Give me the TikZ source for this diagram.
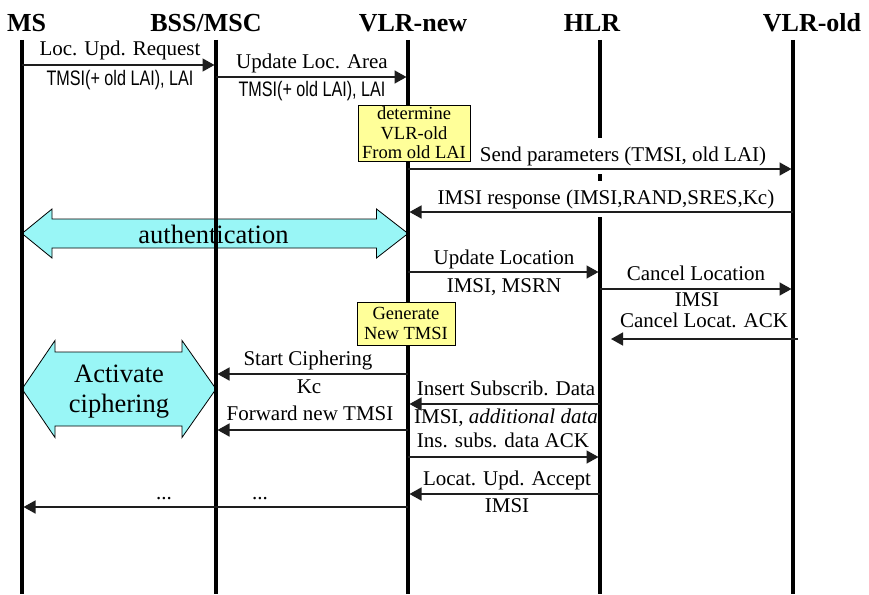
\documentclass[tikz,border=0pt]{standalone}
\usepackage{fontspec}
\setmainfont{Liberation Serif}
\newfontfamily\narrowsans[FakeStretch=0.77]{Liberation Sans}
\usetikzlibrary{arrows.meta}

\definecolor{notefill}{RGB}{255,255,153}
\definecolor{phasefill}{RGB}{153,246,246}
\definecolor{msgline}{RGB}{30,30,30}

\begin{document}
\begin{tikzpicture}[x=1pt,y=-1pt,
  header/.style={font=\fontsize{26}{26}\selectfont\bfseries, anchor=base, inner sep=0pt},
  lifeline/.style={line width=3.4pt},
  msg/.style={draw=msgline, line width=1.5pt, -{Triangle[length=12pt,width=13pt]}, shorten >=1.5pt},
  lbl/.style={font=\fontsize{21}{21}\selectfont, text height=14pt, text depth=4pt, inner sep=1pt},
  sans/.style={lbl, font=\fontsize{21}{21}\narrowsans},
  cover/.style={fill=white, inner ysep=9pt},
  note/.style={draw=black, line width=0.8pt, fill=notefill, align=center, inner sep=0pt,
    font=\fontsize{18.5}{19.5}\selectfont},
  phase/.style={draw=black, line width=0.8pt, fill=phasefill},
  phasetext/.style={inner sep=0pt, align=center, font=\fontsize{26.5}{30}\selectfont},
]
\useasboundingbox (0,0) rectangle (869,594);
\fill[white] (0,0) rectangle (869,594);

% entity headers
\node[header] (hMS)  at (26.5,32) {MS};
\node[header] (hBSS) at (206,32)  {BSS/MSC};
\node[header] (hVN)  at (413,32)  {VLR-new};
\node[header] (hHLR) at (592,32)  {HLR};
\node[header] (hVO)  at (812,32)  {VLR-old};

% lifeline ends
\coordinate (MS)  at (22,40);  \coordinate (MSb)  at (22,594);
\coordinate (BSS) at (216,40); \coordinate (BSSb) at (216,594);
\coordinate (VN)  at (408,40); \coordinate (VNb)  at (408,594);
\coordinate (HLR) at (600,40); \coordinate (HLRb) at (600,594);
\coordinate (VO)  at (793,40); \coordinate (VOb)  at (793,594);

% phase arrows (double-headed block arrows)
\path[phase] (MS |- 0,233.5) -- (52,209) -- (52,219) -- (376.5,219) -- (376.5,209)
  -- (VN |- 0,233.5) -- (376.5,258) -- (376.5,248) -- (52,248) -- (52,258) -- cycle;
\node[phasetext, anchor=base] (auth) at (213.5,243) {authentication};

\path[phase] (MS |- 0,389) -- (55,340.5) -- (55,352) -- (182,352) -- (182,340.5)
  -- (BSS |- 0,389) -- (182,437.5) -- (182,426) -- (55,426) -- (55,437.5) -- cycle;
\node[phasetext] (ciph) at (119,392) {Activate\\ciphering};

% lifelines
\draw[lifeline] (MS) -- (MSb);
\draw[lifeline] (BSS) -- (BSSb);
\draw[lifeline] (VN) -- (VNb);
\draw[lifeline] (HLR) -- (HLRb);
\draw[lifeline] (VO) -- (VOb);

% message labels
\node[lbl]  (m1a) at (120,51)  {Loc. Upd. Request};
\node[sans] (m1b) at (120,80)  {TMSI(+ old LAI), LAI};
\node[lbl]  (m2a) at (312,63)  {Update Loc. Area};
\node[sans] (m2b) at (312,91)  {TMSI(+ old LAI), LAI};
\node[lbl, cover] (m3a) at (623,156) {Send parameters (TMSI, old LAI)};
\node[lbl, cover] (m4a) at (606,199) {IMSI response (IMSI,RAND,SRES,Kc)};
\node[lbl]  (m5a) at (504,259) {Update Location};
\node[lbl]  (m5b) at (504,287) {IMSI, MSRN};
\node[lbl]  (m6a) at (696,275) {Cancel Location};
\node[lbl]  (m6b) at (697,301) {IMSI};
\node[lbl]  (m7a) at (704,322) {Cancel Locat. ACK};
\node[lbl]  (m8a) at (308,360) {Start Ciphering};
\node[lbl]  (m8b) at (309,388) {Kc};
\node[lbl]  (m9a) at (310,415) {Forward new TMSI};
\node[lbl]  (m10a) at (506,390) {Insert Subscrib. Data};
\node[lbl]  (m10b) at (506,418) {IMSI, \textit{additional data}};
\node[lbl]  (m11a) at (503,442) {Ins. subs. data ACK};
\node[lbl]  (m12a) at (507,480) {Locat. Upd. Accept};
\node[lbl]  (m12b) at (507,507) {IMSI};
\node[lbl]  (m13a) at (164,494) {...};
\node[lbl]  (m13b) at (260,494) {...};

% messages
\coordinate (ackfrom) at (798,339);
\coordinate (ackto)   at (609.5,339);
\draw[msg] (MS |- 0,65)   -- (BSS |- 0,65);
\draw[msg] (BSS |- 0,77)  -- (VN |- 0,77);
\draw[msg] (VN |- 0,169)  -- (VO |- 0,169);
\draw[msg] (VO |- 0,212)  -- (VN |- 0,212);
\draw[msg] (VN |- 0,272)  -- (HLR |- 0,272);
\draw[msg] (HLR |- 0,289) -- (VO |- 0,289);
\draw[msg] (ackfrom) -- (ackto);
\draw[msg] (VN |- 0,374)  -- (BSS |- 0,374);
\draw[msg] (HLR |- 0,404) -- (VN |- 0,404);
\draw[msg] (VN |- 0,430)  -- (BSS |- 0,430);
\draw[msg] (VN |- 0,457)  -- (HLR |- 0,457);
\draw[msg] (HLR |- 0,494) -- (VN |- 0,494);
\draw[msg] (VN |- 0,507)  -- (MS |- 0,507);

% local actions at VLR-new
\node[note, minimum width=112pt, minimum height=56pt] (n1) at (414,133) {determine\\VLR-old\\From old LAI};
\node[note, minimum width=98pt, minimum height=43pt] (n2) at (406,323.5) {Generate\\New TMSI};
\end{tikzpicture}
\end{document}
